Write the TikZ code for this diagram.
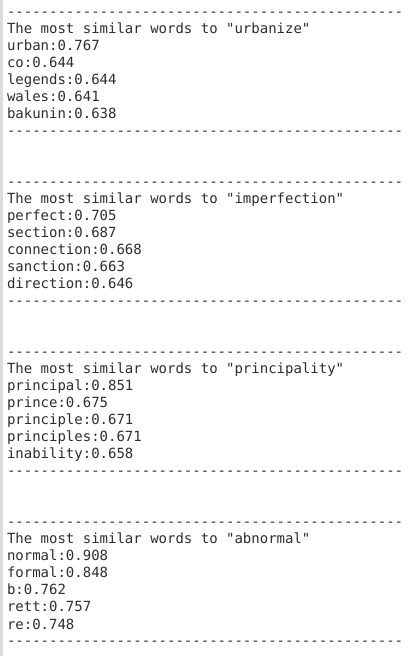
\documentclass[tikz,border=0pt]{standalone}
\usepackage{fontspec}
\setmonofont{DejaVu Sans Mono}
\definecolor{txt}{HTML}{2E2E2E}
\definecolor{bar}{HTML}{DCDCDC}
\newcommand{\dashrow}{-----------------------------------------------}
\begin{document}
\begin{tikzpicture}[x=1pt,y=1pt,
  line/.style={anchor=base west,inner sep=0pt,outer sep=0pt,text=txt,
    font=\ttfamily\fontsize{14pt}{17pt}\selectfont}]
\useasboundingbox (0,0) rectangle (417,656);
\fill[white] (0,0) rectangle (417,656);
\fill[bar] (0,0) rectangle (2.5,656);
% block 1
\node[line] (a0) at (7,639) {\dashrow};
\node[line] (a1) at (7,622) {The most similar words to "urbanize"};
\node[line] (a2) at (7,605) {urban:0.767};
\node[line] (a3) at (7,588) {co:0.644};
\node[line] (a4) at (7,571) {legends:0.644};
\node[line] (a5) at (7,554) {wales:0.641};
\node[line] (a6) at (7,537) {bakunin:0.638};
\node[line] (a7) at (7,520) {\dashrow};
% block 2
\node[line] (b0) at (7,469) {\dashrow};
\node[line] (b1) at (7,452) {The most similar words to "imperfection"};
\node[line] (b2) at (7,435) {perfect:0.705};
\node[line] (b3) at (7,418) {section:0.687};
\node[line] (b4) at (7,401) {connection:0.668};
\node[line] (b5) at (7,384) {sanction:0.663};
\node[line] (b6) at (7,367) {direction:0.646};
\node[line] (b7) at (7,350) {\dashrow};
% block 3
\node[line] (c0) at (7,299) {\dashrow};
\node[line] (c1) at (7,282) {The most similar words to "principality"};
\node[line] (c2) at (7,265) {principal:0.851};
\node[line] (c3) at (7,248) {prince:0.675};
\node[line] (c4) at (7,231) {principle:0.671};
\node[line] (c5) at (7,214) {principles:0.671};
\node[line] (c6) at (7,197) {inability:0.658};
\node[line] (c7) at (7,180) {\dashrow};
% block 4
\node[line] (d0) at (7,129) {\dashrow};
\node[line] (d1) at (7,112) {The most similar words to "abnormal"};
\node[line] (d2) at (7,95) {normal:0.908};
\node[line] (d3) at (7,78) {formal:0.848};
\node[line] (d4) at (7,61) {b:0.762};
\node[line] (d5) at (7,44) {rett:0.757};
\node[line] (d6) at (7,27) {re:0.748};
\node[line] (d7) at (7,10) {\dashrow};
\end{tikzpicture}
\end{document}
